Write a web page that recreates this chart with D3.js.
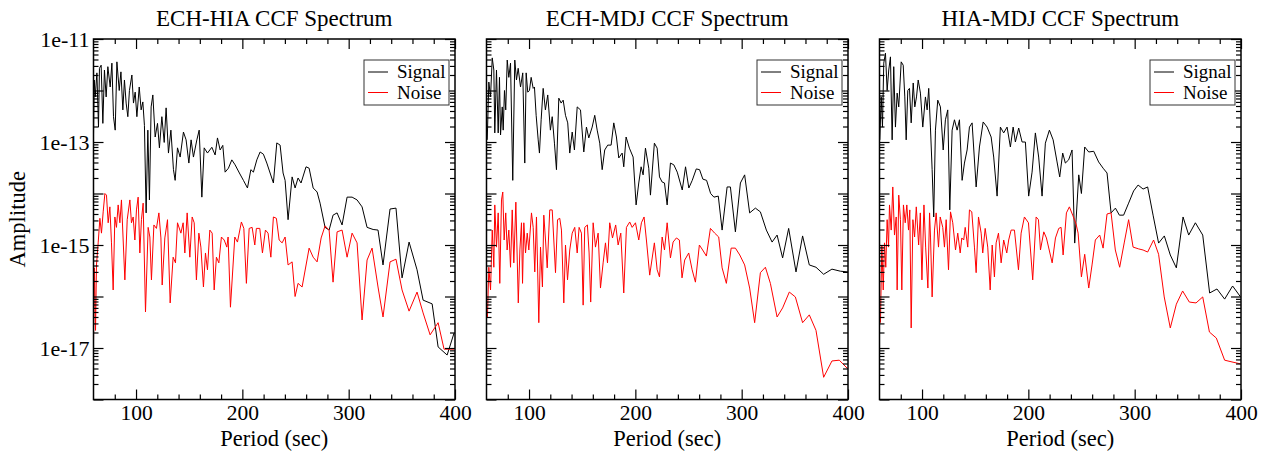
<!DOCTYPE html>
<html>
<head>
<meta charset="utf-8">
<script src="https://cdn.jsdelivr.net/npm/d3@7"></script>
<style>
  body { margin: 0; background: #fff; }
  svg { display: block; font-family: "Liberation Serif", "DejaVu Serif", serif; }
</style>
</head>
<body>
<svg id="chart" width="1272" height="452"></svg>
<script>
const panelTitles = ["ECH-HIA CCF Spectrum", "ECH-MDJ CCF Spectrum", "HIA-MDJ CCF Spectrum"];
const seriesNames = ["Signal", "Noise"];
const seriesColors = ["#000000", "#ff0000"];
const xMajorTicks = [100, 200, 300, 400];
const xMinorTicks = [80, 120, 140, 160, 180, 220, 240, 260, 280, 320, 340, 360, 380];
const yTickValues = [1e-11, 1e-13, 1e-15, 1e-17];
const yTickLabels = ["1e-11", "1e-13", "1e-15", "1e-17"];

// [period (sec), amplitude]
const echHiaSignal = [[60.0,1.4e-13],[60.7,1.6e-12],[61.6,7.5e-13],[63.2,2.2e-12],[64.7,1.95e-13],[65.6,2.7e-12],[67.2,3.1e-12],[68.8,2.3e-13],[70.3,2.5e-12],[71.9,7.5e-13],[73.5,2.9e-12],[75.7,1.17e-12],[77.3,3.4e-12],[78.8,3.1e-13],[80.4,1.7e-13],[82.0,3.6e-12],[84.2,1.0e-12],[85.8,2.3e-12],[87.6,4.2e-13],[89.1,1.6e-12],[90.7,5.7e-13],[92.3,3.1e-13],[93.8,1.0e-12],[96.1,2.0e-12],[97.6,5.7e-13],[99.2,9.3e-13],[100.8,3.1e-13],[103.0,1.17e-12],[104.8,4.2e-13],[106.4,6.0e-13],[107.9,2.1e-13],[109.5,4.2e-15],[111.1,1.7e-13],[112.6,7.5e-15],[114.2,4.8e-13],[115.8,8.2e-13],[118.0,1.25e-13],[120.2,2.3e-13],[122.0,7.7e-14],[124.3,3.1e-13],[126.5,9.8e-14],[128.3,4.6e-13],[130.5,6.1e-14],[132.8,1.7e-13],[135.2,2.9e-14],[136.8,1.8e-14],[139.0,7.7e-14],[141.5,5.1e-14],[144.6,1.56e-13],[147.1,1.1e-13],[149.7,3.9e-14],[151.8,1.1e-13],[154.0,5.1e-14],[157.2,1.1e-13],[159.4,1.7e-13],[161.9,8.5e-15],[164.1,7.7e-14],[167.2,6.1e-14],[171.3,7.9e-14],[174.4,5.6e-14],[176.6,1.2e-13],[179.1,7.0e-14],[181.6,8.6e-14],[183.8,2.6e-14],[186.9,3.1e-14],[190.1,4.5e-14],[193.2,3.6e-14],[197.2,2.5e-14],[201.0,1.8e-14],[204.8,1.28e-14],[208.0,2.9e-14],[210.4,2.6e-14],[213.6,4.5e-14],[216.7,6.4e-14],[219.8,5.8e-14],[223.0,3.9e-14],[226.1,2.5e-14],[229.2,1.6e-14],[232.4,9.6e-14],[235.5,8.7e-14],[238.3,2.5e-14],[240.2,1.8e-14],[243.0,3.1e-15],[246.8,2.1e-14],[249.6,1.28e-14],[252.4,2.0e-14],[255.2,1.6e-14],[259.9,3.3e-14],[262.8,3.1e-14],[266.6,1.28e-14],[270.3,1.07e-14],[273.1,6.5e-15],[277.8,2.2e-15],[281.6,1.95e-15],[285.3,3.8e-15],[289.1,4.2e-15],[293.8,2.45e-15],[298.5,8.5e-15],[303.2,8.5e-15],[307.9,7.5e-15],[312.6,5.5e-15],[317.3,2.2e-15],[323.0,2.0e-15],[327.6,1.95e-15],[332.3,4.1e-16],[338.9,5.0e-15],[344.5,5.2e-15],[350.2,2.3e-16],[356.8,1.14e-15],[364.3,3.3e-16],[370.0,8.5e-17],[378.5,7.2e-17],[384.1,1.05e-17],[392.6,7.3e-18],[399.1,1.95e-17]];

const echHiaNoise = [[60.0,1.3e-17],[60.9,3.6e-16],[61.9,2.2e-17],[62.8,4.1e-16],[64.4,1.1e-15],[66.0,3.3e-15],[67.5,1.7e-15],[69.1,4.4e-15],[70.7,1.0e-14],[72.2,9.3e-15],[73.8,2.7e-15],[75.4,5.5e-15],[76.9,1.1e-15],[78.5,1.34e-16],[80.1,3.5e-15],[81.6,2.2e-15],[83.2,6.0e-15],[84.8,2.7e-15],[86.3,7.5e-15],[87.9,1.25e-15],[89.5,2.1e-16],[91.7,3.1e-15],[94.2,7.5e-15],[95.7,2.7e-15],[97.3,3.5e-15],[98.9,1.25e-15],[100.4,4.8e-15],[102.0,8.5e-15],[103.6,7.0e-16],[105.1,3.1e-15],[106.7,6.5e-15],[108.9,5.0e-17],[111.4,2.2e-15],[113.0,1.43e-15],[114.5,2.1e-16],[116.8,2.45e-15],[119.2,2.1e-15],[121.5,4.2e-15],[123.4,1.37e-15],[124.6,1.67e-16],[127.1,1.37e-15],[129.6,3.1e-15],[132.1,7.5e-17],[134.9,5.8e-16],[137.1,4.5e-16],[139.0,2.7e-15],[142.2,1.7e-15],[144.3,2.7e-15],[145.9,7.0e-16],[148.1,4.2e-15],[150.6,5.8e-16],[152.8,3.5e-15],[154.7,2.7e-15],[156.8,2.1e-16],[159.1,1.7e-15],[161.0,9.1e-16],[163.4,1.53e-16],[165.3,7.0e-16],[167.2,3.3e-16],[169.4,1.95e-15],[171.6,1.7e-15],[173.5,1.34e-16],[175.6,5.8e-16],[177.9,4.5e-16],[180.3,1.43e-15],[182.9,1.25e-15],[185.4,9.1e-16],[186.6,1.43e-15],[188.8,6.2e-17],[192.9,1.43e-15],[195.4,1.14e-15],[199.1,2.8e-15],[201.4,2.1e-15],[203.8,1.8e-16],[206.4,2.1e-15],[209.2,2.2e-15],[211.7,1.0e-15],[213.2,2.1e-15],[216.4,2.1e-15],[218.9,7.0e-16],[221.7,1.95e-15],[224.2,1.7e-15],[226.8,5.8e-16],[229.2,3.5e-15],[232.0,3.3e-15],[234.6,1.25e-15],[237.4,1.1e-15],[240.2,1.43e-15],[243.0,4.1e-16],[246.8,4.7e-16],[249.6,1.0e-16],[252.4,1.8e-16],[256.2,1.53e-16],[262.8,8.7e-16],[266.6,5.8e-16],[270.3,4.7e-16],[274.1,1.37e-15],[277.8,2.35e-15],[281.6,1.95e-15],[285.3,1.9e-16],[289.1,1.8e-15],[293.8,1.95e-15],[298.5,5.8e-16],[303.2,1.7e-15],[307.9,1.1e-15],[312.6,3.5e-17],[317.3,5.1e-16],[322.0,8.7e-16],[327.6,1.53e-16],[332.3,4.0e-17],[338.9,4.7e-16],[344.5,5.3e-16],[350.2,1.34e-16],[356.8,5.2e-17],[364.3,1.22e-16],[370.0,4.8e-17],[376.6,1.8e-17],[384.1,3.1e-17],[389.7,9.5e-18],[399.1,9.5e-18]];

const echMdjSignal = [[60.7,1.1e-13],[62.2,1.46e-12],[63.8,7.5e-13],[65.4,4.3e-12],[66.9,2.5e-12],[67.8,1.5e-13],[69.4,2.5e-12],[71.0,1.5e-13],[72.2,1.8e-12],[73.2,1.37e-13],[74.8,4.8e-13],[75.7,1.7e-13],[76.9,1.0e-12],[78.1,4.2e-13],[79.5,3.9e-12],[81.0,1.8e-12],[82.6,3.4e-12],[84.7,1.8e-14],[86.6,3.9e-12],[88.2,1.6e-12],[89.8,2.7e-12],[92.0,1.17e-12],[94.1,2.2e-12],[96.0,3.9e-14],[97.3,2.2e-12],[98.8,9.3e-13],[100.4,1.0e-12],[102.0,1.8e-12],[103.9,1.1e-12],[105.1,1.17e-12],[106.7,3.3e-13],[108.6,1.1e-13],[109.8,6.1e-14],[111.4,2.7e-13],[113.3,1.1e-12],[115.4,4.2e-13],[117.6,8.2e-13],[120.1,1.7e-13],[121.8,3.1e-13],[123.9,9.5e-14],[125.8,2.9e-14],[128.0,7.1e-13],[130.2,5.7e-13],[132.1,6.5e-13],[134.3,3.3e-13],[136.4,2.35e-13],[138.3,6.1e-14],[140.6,1.56e-13],[142.7,7.0e-14],[145.3,4.8e-13],[148.4,4.2e-13],[151.5,6.4e-14],[154.0,1.95e-13],[156.2,1.2e-13],[159.4,1.95e-13],[161.8,3.3e-13],[164.1,1.7e-13],[166.5,9.5e-14],[168.8,2.9e-14],[171.2,7.0e-14],[174.0,8.7e-14],[177.2,8.7e-14],[179.7,2.35e-13],[182.2,1.25e-13],[184.4,4.9e-14],[187.6,6.1e-14],[189.1,3.3e-14],[191.3,1.25e-13],[194.4,7.6e-14],[197.9,5.1e-14],[200.7,6.0e-15],[203.2,1.6e-14],[205.4,3.3e-14],[207.3,2.3e-14],[209.5,7.6e-14],[212.6,3.1e-14],[214.2,9.3e-15],[217.9,9.5e-14],[220.5,7.6e-14],[222.7,2.1e-14],[225.2,1.67e-14],[227.4,1.6e-14],[229.9,6.0e-15],[233.0,3.9e-14],[236.2,3.6e-14],[239.4,2.6e-14],[244.1,1.17e-14],[247.2,3.3e-14],[250.3,1.28e-14],[253.5,1.8e-14],[257.3,3.0e-14],[260.4,2.9e-14],[263.5,1.9e-14],[267.0,1.8e-14],[270.8,1.0e-14],[273.9,8.5e-15],[278.0,8.9e-15],[281.6,1.95e-15],[286.3,1.34e-14],[289.4,1.34e-14],[294.1,1.8e-15],[298.8,1.6e-14],[302.8,2.3e-14],[307.5,4.2e-15],[312.9,5.2e-15],[317.6,4.4e-15],[323.2,1.95e-15],[328.6,1.14e-15],[333.3,1.56e-15],[338.5,5.6e-16],[344.2,2.1e-15],[351.1,3.0e-16],[357.3,1.5e-15],[363.6,4.1e-16],[369.9,3.7e-16],[377.1,2.7e-16],[384.9,3.4e-16],[392.8,3.1e-16],[400.0,3.0e-16]];

const echMdjNoise = [[60.9,4.0e-17],[62.2,3.7e-16],[63.8,1.34e-16],[65.4,1.95e-15],[66.9,3.7e-16],[67.8,6.0e-15],[69.4,9.1e-16],[71.0,4.2e-15],[72.5,1.8e-16],[74.1,7.5e-15],[75.3,1.07e-14],[76.6,1.25e-15],[78.1,4.2e-15],[79.4,8.0e-16],[81.0,1.95e-15],[82.6,3.7e-16],[84.2,4.8e-15],[85.7,4.5e-16],[87.6,6.8e-15],[89.9,7.5e-17],[91.4,8.0e-16],[92.9,2.7e-15],[93.9,1.8e-16],[95.1,2.7e-15],[96.7,7.0e-16],[98.3,1.7e-15],[99.8,8.0e-16],[102.3,4.2e-15],[103.9,2.2e-15],[105.4,3.0e-16],[107.0,3.5e-15],[109.2,3.1e-17],[110.8,9.1e-16],[112.6,1.53e-16],[113.9,3.8e-15],[115.5,1.25e-15],[117.1,3.6e-16],[119.5,4.8e-15],[121.8,4.8e-15],[123.3,1.25e-15],[124.9,2.9e-16],[126.8,3.1e-15],[128.9,3.3e-15],[130.5,1.95e-15],[132.7,7.5e-17],[134.3,1.0e-15],[136.2,2.1e-16],[138.3,8.0e-16],[140.6,1.7e-15],[143.0,2.2e-15],[145.3,7.0e-16],[147.1,2.2e-15],[149.3,1.7e-15],[150.9,6.8e-17],[152.4,2.2e-15],[154.9,2.45e-15],[156.5,7.0e-16],[158.0,7.8e-17],[160.3,2.7e-15],[162.5,9.1e-16],[165.0,1.7e-15],[167.2,1.46e-16],[169.7,4.5e-16],[171.9,1.1e-15],[173.8,4.5e-16],[175.9,2.7e-15],[178.5,1.37e-15],[181.5,2.45e-15],[183.8,1.0e-15],[186.3,1.7e-15],[189.1,1.17e-16],[191.6,2.2e-15],[194.7,2.8e-15],[197.0,2.2e-15],[200.1,2.7e-15],[203.2,1.25e-15],[205.7,2.7e-15],[208.2,3.5e-15],[210.4,1.25e-15],[213.5,2.6e-16],[217.9,1.1e-15],[220.5,3.3e-16],[222.7,2.4e-16],[225.2,1.43e-15],[227.4,8.0e-16],[229.9,2.7e-15],[233.0,5.6e-16],[235.5,1.14e-15],[238.6,1.37e-15],[241.4,1.25e-15],[243.9,2.3e-16],[246.4,5.1e-16],[250.2,7.0e-16],[253.4,3.3e-16],[256.5,1.9e-16],[260.2,1.0e-15],[263.3,8.0e-16],[266.8,6.1e-16],[270.6,2.1e-15],[274.6,1.7e-15],[278.4,1.43e-15],[281.6,3.6e-16],[285.6,1.8e-16],[290.1,8.7e-16],[294.1,8.7e-16],[298.2,6.4e-16],[302.8,4.1e-16],[307.5,1.46e-16],[312.2,3.1e-17],[317.6,2.9e-16],[322.3,3.7e-16],[327.0,1.8e-16],[333.3,4.0e-17],[338.5,6.0e-17],[344.8,1.22e-16],[350.5,9.8e-17],[357.3,3.1e-17],[363.6,4.4e-17],[369.9,2.2e-17],[377.1,2.7e-18],[384.9,5.6e-18],[391.8,5.8e-18],[400.0,3.9e-18]];

const hiaMdjSignal = [[60.3,1.1e-13],[61.6,7.5e-13],[62.8,1.95e-13],[64.0,3.4e-12],[65.6,5.3e-12],[67.2,1.0e-12],[68.7,2.5e-12],[70.3,4.5e-12],[71.9,1.1e-13],[73.4,2.9e-12],[75.0,1.95e-13],[76.6,8.9e-13],[78.1,4.8e-13],[80.4,3.6e-12],[82.3,3.1e-12],[83.8,7.5e-13],[85.1,1.1e-13],[86.6,1.0e-12],[88.2,1.1e-12],[89.8,2.35e-13],[91.7,1.4e-12],[93.2,4.8e-13],[94.8,7.5e-13],[96.4,1.6e-12],[98.5,8.9e-13],[100.7,1.95e-13],[103.2,7.5e-13],[104.8,4.2e-13],[106.3,1.1e-12],[107.9,1.95e-13],[109.5,2.9e-14],[111.0,3.5e-15],[112.6,1.7e-13],[114.8,6.5e-13],[117.3,4.8e-13],[119.9,7.0e-14],[122.0,2.7e-13],[124.2,4.2e-13],[126.1,4.8e-15],[128.3,1.7e-13],[130.5,2.7e-13],[133.0,1.7e-13],[135.2,2.7e-13],[137.7,1.8e-14],[139.9,3.9e-14],[142.4,7.0e-14],[144.6,1.95e-13],[147.1,2.35e-13],[150.9,1.34e-14],[154.0,8.0e-14],[157.5,2.45e-13],[161.2,1.95e-13],[165.0,1.25e-13],[167.4,5.1e-14],[170.6,8.9e-15],[173.7,1.95e-13],[176.8,1.5e-13],[180.0,1.95e-13],[183.1,8.0e-14],[185.7,1.95e-13],[187.8,1.0e-13],[190.9,1.87e-13],[194.1,1.0e-13],[197.2,1.0e-13],[200.3,8.9e-15],[203.5,2.6e-14],[206.6,1.5e-13],[209.7,5.1e-14],[212.9,8.9e-15],[216.0,9.5e-14],[219.8,1.7e-13],[223.3,1.1e-13],[227.0,4.1e-14],[229.5,2.1e-14],[232.3,6.1e-14],[234.8,3.9e-14],[237.9,4.5e-14],[241.1,7.0e-14],[243.6,1.09e-15],[247.4,2.3e-14],[249.9,1.0e-14],[253.0,8.0e-14],[256.8,6.4e-14],[261.5,6.6e-14],[266.1,4.1e-14],[270.3,3.1e-14],[274.0,2.5e-14],[277.8,4.2e-15],[281.9,5.2e-15],[285.6,3.8e-15],[289.6,3.8e-15],[294.3,6.5e-15],[299.0,1.12e-14],[303.2,1.46e-14],[307.9,1.22e-14],[312.2,1.34e-14],[317.3,3.8e-15],[322.5,1.09e-15],[327.9,1.5e-15],[333.5,6.4e-16],[339.2,3.6e-16],[345.5,3.5e-15],[350.8,1.56e-15],[357.1,2.7e-15],[364.0,1.56e-15],[370.5,1.17e-16],[377.4,1.4e-16],[384.6,8.9e-17],[392.1,1.6e-16],[399.3,1.0e-16]];

const hiaMdjNoise = [[60.9,3.1e-17],[62.2,1.0e-15],[63.5,1.34e-16],[64.7,1.1e-15],[65.9,3.7e-16],[67.2,3.1e-15],[68.5,9.1e-16],[69.4,6.0e-15],[71.0,1.95e-15],[72.5,1.34e-14],[74.1,1.56e-15],[75.7,3.5e-15],[76.6,1.34e-16],[78.1,9.3e-15],[79.7,3.1e-15],[81.0,1.34e-16],[82.5,6.0e-15],[84.2,2.7e-15],[85.7,6.0e-15],[87.3,1.95e-15],[88.5,4.8e-15],[89.8,2.45e-17],[91.4,3.1e-15],[93.0,1.43e-15],[94.6,5.5e-15],[96.8,1.0e-15],[98.4,4.2e-15],[99.9,2.1e-16],[101.8,6.0e-15],[103.4,9.1e-16],[105.5,1.46e-16],[107.1,4.2e-15],[108.0,1.37e-15],[109.5,9.8e-17],[111.7,1.95e-15],[113.3,4.2e-15],[115.5,9.1e-16],[117.1,3.5e-15],[119.5,2.2e-15],[121.1,9.1e-16],[122.7,3.1e-15],[124.9,3.3e-16],[126.8,4.4e-15],[128.9,2.7e-15],[131.5,8.0e-16],[133.6,1.7e-15],[135.9,7.0e-16],[137.4,1.37e-15],[139.2,1.25e-15],[140.6,2.2e-15],[143.0,9.1e-16],[144.6,4.8e-15],[146.8,4.4e-15],[149.3,9.1e-16],[150.9,2.9e-16],[153.1,3.5e-15],[155.6,1.7e-15],[157.1,7.0e-16],[159.4,2.1e-15],[161.8,9.1e-16],[164.1,1.34e-16],[166.0,1.0e-15],[168.1,2.4e-16],[169.7,1.1e-15],[171.9,1.7e-15],[174.4,4.5e-16],[176.8,1.25e-15],[179.7,7.0e-16],[181.5,1.25e-15],[183.8,1.95e-15],[186.9,1.95e-15],[190.7,3.3e-16],[193.2,1.7e-15],[196.3,3.5e-15],[200.1,2.7e-15],[204.1,2.1e-16],[207.3,3.5e-15],[209.5,3.1e-15],[211.4,8.0e-16],[214.5,1.8e-15],[217.0,1.37e-15],[222.4,4.5e-16],[225.5,1.37e-15],[228.6,2.1e-15],[230.8,2.2e-15],[232.7,6.4e-16],[235.8,4.2e-15],[238.6,5.5e-15],[241.7,3.8e-15],[244.9,2.55e-15],[246.8,1.7e-15],[249.9,2.4e-16],[253.0,6.6e-16],[256.8,1.46e-16],[259.9,4.1e-16],[263.0,1.25e-15],[267.1,1.56e-15],[270.3,8.7e-16],[274.0,4.0e-15],[277.8,4.2e-15],[281.8,8.0e-16],[285.9,3.7e-16],[290.3,1.14e-15],[294.3,3.1e-15],[298.5,9.1e-16],[303.7,8.4e-16],[307.9,8.0e-16],[312.2,7.3e-16],[317.8,1.25e-15],[322.5,6.6e-16],[327.8,9.8e-17],[333.5,2.45e-17],[339.2,7.1e-17],[345.1,1.28e-16],[351.4,7.8e-17],[357.7,7.5e-17],[364.0,9.8e-17],[370.3,2.04e-17],[376.8,1.56e-17],[384.6,5.8e-18],[392.5,5.3e-18],[400.0,4.9e-18]];

const panels = [
  { title: panelTitles[0], series: [echHiaSignal, echHiaNoise] },
  { title: panelTitles[1], series: [echMdjSignal, echMdjNoise] },
  { title: panelTitles[2], series: [hiaMdjSignal, hiaMdjNoise] }
];

// layout
const panelLefts = [93.5, 486.5, 879.5];
const plotTop = 39, plotW = 361.5, plotH = 360.5;

const svg = d3.select("#chart");

const x = d3.scaleLinear().domain([60, 400]).range([0, plotW]);
const y = d3.scaleLog().domain([1e-18, 1e-11]).range([plotH, 0]);

const decades = d3.range(-18, -10).map(e => Math.pow(10, e));
const yMinor = y.ticks().filter(v => !decades.some(d => Math.abs(v / d - 1) < 1e-6));

const line = d3.line()
    .x(d => x(d[0]))
    .y(d => y(d[1]));

function styleAxis(g, fontSize = 21.5) {
    g.select(".domain").remove();
    g.selectAll(".tick line").attr("stroke", "#000").attr("stroke-width", 1.2);
    g.selectAll(".tick text")
        .attr("font-family", "Liberation Serif, serif")
        .attr("font-size", fontSize)
        .attr("fill", "#000");
    g.attr("font-family", null).attr("font-size", null);
}

panels.forEach((p, i) => {
    const g = svg.append("g").attr("transform", `translate(${panelLefts[i]},${plotTop})`);

    svg.append("clipPath").attr("id", `clip${i}`)
       .append("rect").attr("width", plotW).attr("height", plotH);

    // data lines
    const lines = g.append("g").attr("clip-path", `url(#clip${i})`);
    p.series.forEach((s, k) => {
        lines.append("path")
            .datum(s)
            .attr("fill", "none")
            .attr("stroke", seriesColors[k])
            .attr("stroke-width", 1)
            .attr("d", line);
    });

    // bottom axis
    g.append("g").attr("transform", `translate(0,${plotH})`)
        .call(d3.axisBottom(x).tickValues(xMajorTicks).tickSize(-10).tickPadding(5.5))
        .call(styleAxis);
    g.append("g").attr("transform", `translate(0,${plotH})`)
        .call(d3.axisBottom(x).tickValues(xMinorTicks).tickSize(-5).tickFormat(""))
        .call(styleAxis);
    // top axis
    g.append("g")
        .call(d3.axisTop(x).tickValues(xMajorTicks).tickSize(-10).tickFormat(""))
        .call(styleAxis);
    g.append("g")
        .call(d3.axisTop(x).tickValues(xMinorTicks).tickSize(-5).tickFormat(""))
        .call(styleAxis);

    // left axis
    g.append("g")
        .call(d3.axisLeft(y).tickValues(decades).tickSize(-10).tickPadding(4)
            .tickFormat(v => {
                if (i !== 0) return "";
                const idx = yTickValues.findIndex(t => Math.abs(v / t - 1) < 1e-6);
                return idx >= 0 ? yTickLabels[idx] : "";
            }))
        .call(g2 => styleAxis(g2, 22));
    g.append("g")
        .call(d3.axisLeft(y).tickValues(yMinor).tickSize(-5).tickFormat(""))
        .call(styleAxis);
    // right axis
    g.append("g").attr("transform", `translate(${plotW},0)`)
        .call(d3.axisRight(y).tickValues(decades).tickSize(-10).tickFormat(""))
        .call(styleAxis);
    g.append("g").attr("transform", `translate(${plotW},0)`)
        .call(d3.axisRight(y).tickValues(yMinor).tickSize(-5).tickFormat(""))
        .call(styleAxis);

    // frame
    g.append("rect")
        .attr("width", plotW).attr("height", plotH)
        .attr("fill", "none").attr("stroke", "#000").attr("stroke-width", 1.5);

    // title
    g.append("text")
        .attr("x", plotW / 2).attr("y", -13)
        .attr("text-anchor", "middle")
        .attr("font-size", 23)
        .text(p.title);

    // x axis title
    g.append("text")
        .attr("x", plotW / 2).attr("y", plotH + 46)
        .attr("text-anchor", "middle")
        .attr("font-size", 22.5)
        .text("Period (sec)");

    // legend
    const lg = g.append("g").attr("transform", `translate(${plotW - 91},21)`);
    lg.append("rect")
        .attr("width", 85).attr("height", 45)
        .attr("fill", "#fff").attr("stroke", "#333").attr("stroke-width", 1);
    seriesNames.forEach((name, k) => {
        const ly = 12 + k * 20.5;
        lg.append("line")
            .attr("x1", 4).attr("x2", 24).attr("y1", ly).attr("y2", ly)
            .attr("stroke", seriesColors[k]).attr("stroke-width", 1);
        lg.append("text")
            .attr("x", 33).attr("y", ly + 6)
            .attr("font-size", 19)
            .text(name);
    });
});

// y axis title
svg.append("text")
    .attr("transform", `translate(25,${plotTop + plotH / 2}) rotate(-90)`)
    .attr("text-anchor", "middle")
    .attr("font-size", 22.5)
    .text("Amplitude");
</script>
</body>
</html>
